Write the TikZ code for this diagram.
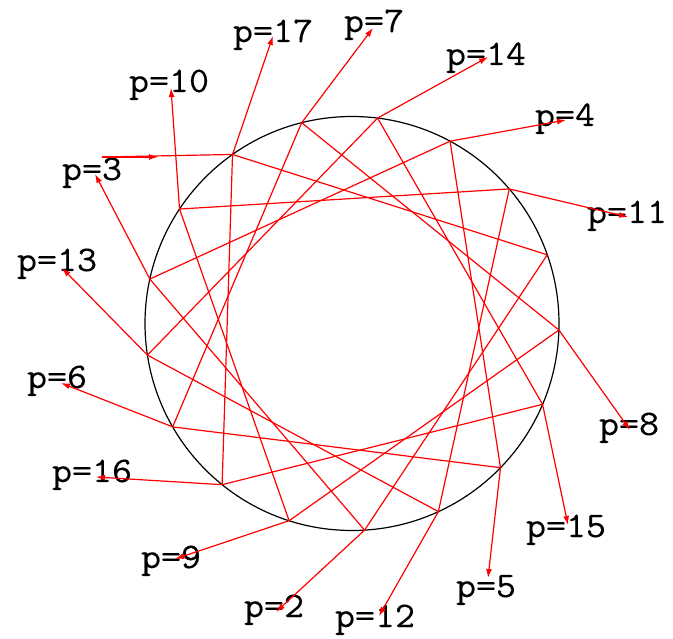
\documentclass[tikz,border=0pt]{standalone}
\usepackage{fontspec}
\newfontfamily\labfont{Latin Modern Mono}[FakeStretch=1.08,FakeBold=0.3]
\usetikzlibrary{arrows.meta}
\tikzset{
  x=1pt, y=-1pt,
  chord/.style={draw=red, line width=1.2pt},
  rim/.style={draw=black, line width=1.2pt},
  arr/.style={draw=red, line width=1.2pt, -{Latex[length=9pt,width=6pt]}},
  lab/.style={anchor=base, inner sep=0pt, font=\labfont\fontsize{36}{40}\selectfont, text=black}
}
\begin{document}
\begin{tikzpicture}
\useasboundingbox (0,0) rectangle (673,639);
\coordinate (C) at (352,323.5);
\draw[rim] (C) circle[radius=207pt];
\foreach \k in {0,...,16}{
  \coordinate (P\k) at ({352+207*cos(82.9-\k*360/17)},{323.5-207*sin(82.9-\k*360/17)});
}
\foreach \k in {0,...,16}{
  \pgfmathtruncatemacro\j{mod(\k+5,17)}
  \draw[chord] (P\k) -- (P\j);
}
\foreach \k/\p/\tx/\ty/\lx/\ly in {
  0/14/488/57/486/65,
  1/4/566/120/565/126,
  2/11/628/217/627/223,
  4/8/630/430/629/435,
  5/15/568/525/566/537,
  6/5/488/578/486/597,
  7/12/379/616/375/627,
  8/2/276/612/274/617,
  9/9/175/559/171/568,
  10/16/96/477/92/482,
  11/6/61/383/57/388,
  12/13/62/268/57/271,
  13/3/95/174/92/180,
  14/10/171/88/169/92,
  15/17/273/36/273/42,
  16/7/373/28/374/32}{
  \node[lab] (L\p) at (\lx,\ly) {p=\p};
  \coordinate (T\p) at (\tx,\ty);
  \draw[arr] (P\k) -- (T\p);
}
\coordinate (H) at (102,157);
\coordinate (HM) at (158,157);
\draw[chord] (H) -- (P15);
\draw[arr] (H) -- (HM);
\end{tikzpicture}
\end{document}
